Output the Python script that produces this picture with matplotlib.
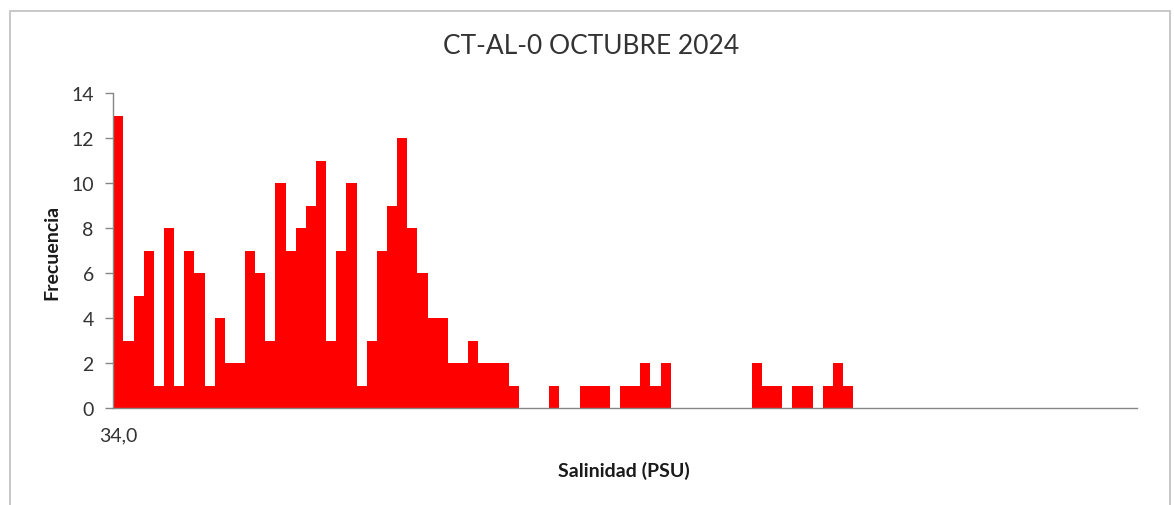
import matplotlib
matplotlib.use("Agg")
import matplotlib.pyplot as plt
from matplotlib.patches import Rectangle

# Data: frequency per salinity bin (101 bins), first bin labelled 34,0
frecuencia = [
    13, 3, 5, 7, 1, 8, 1, 7, 6, 1,
    4, 2, 2, 7, 6, 3, 10, 7, 8, 9,
    11, 3, 7, 10, 1, 3, 7, 9, 12, 8,
    6, 4, 4, 2, 2, 3, 2, 2, 2, 1,
    0, 0, 0, 1, 0, 0, 1, 1, 1, 0,
    1, 1, 2, 1, 2, 0, 0, 0, 0, 0,
    0, 0, 0, 2, 1, 1, 0, 1, 1, 0,
    1, 2, 1, 0, 0, 0, 0, 0, 0, 0,
    0, 0, 0, 0, 0, 0, 0, 0, 0, 0,
    0, 0, 0, 0, 0, 0, 0, 0, 0, 0,
    0,
]
x_tick_labels = ["34,0"]
y_ticks = [0, 2, 4, 6, 8, 10, 12, 14]
title = "CT-AL-0 OCTUBRE 2024"
x_label = "Salinidad (PSU)"
y_label = "Frecuencia"

W, H = 1174, 506
fig = plt.figure(figsize=(W / 100, H / 100), dpi=100)
plt.rcParams['font.family'] = ['Lato', 'DejaVu Sans']

# outer chart frame
fig.patches.append(Rectangle((10 / W, -0.05), (1170 - 10) / W, 1.05 - 12 / H,
                             transform=fig.transFigure, fill=False,
                             edgecolor='#BFBFBF', linewidth=1.2))

ax = fig.add_axes([113.3 / W, 1 - 409 / H, (1137 - 113.3) / W, (409 - 94) / H])
idx = list(range(len(frecuencia)))
ax.bar(idx, frecuencia, width=1.0, align='edge', color='#FF0000', linewidth=0)

ax.set_xlim(0, len(frecuencia))
ax.set_ylim(0, 14)
ax.set_yticks(y_ticks)
ax.set_xticks([i + 0.5 for i in range(len(x_tick_labels))])
ax.set_xticklabels(x_tick_labels, fontsize=14, color='#333333')
ax.tick_params(axis='x', length=0, pad=13)
ax.tick_params(axis='y', length=6, width=1, color='#868686', labelsize=14,
               labelcolor='#333333', pad=8)
for s in ['top', 'right']:
    ax.spines[s].set_visible(False)
for s in ['left', 'bottom']:
    ax.spines[s].set_color('#868686')
    ax.spines[s].set_linewidth(1)

fig.text(591 / W, 1 - 47 / H, title, ha='center', va='center', fontsize=19,
         color='#333333')
fig.text(624 / W, 1 - 471 / H, x_label, ha='center', va='center', fontsize=14,
         fontweight='bold', color='#1a1a1a')
fig.text(52 / W, 1 - 252 / H, y_label, ha='center', va='center', fontsize=14,
         fontweight='bold', rotation=90, color='#1a1a1a')

fig.savefig("out.png", dpi=100, facecolor='white')
